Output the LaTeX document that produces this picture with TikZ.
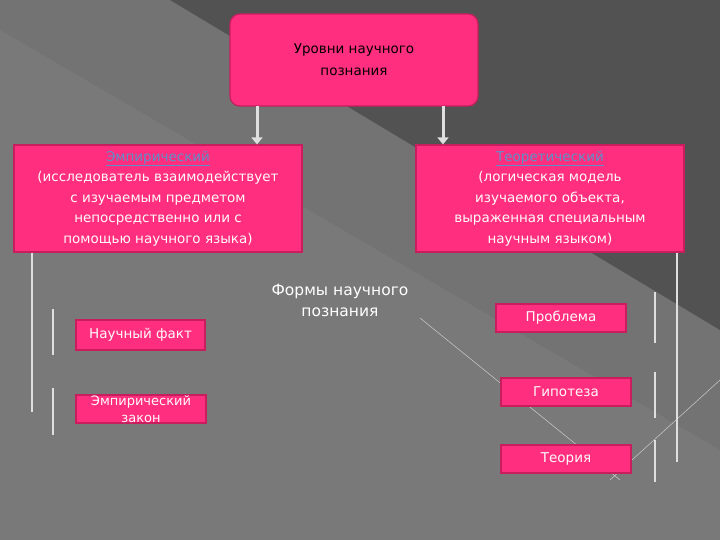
\documentclass[tikz,border=0pt]{standalone}
\usepackage{fontspec}
\setmainfont{DejaVu Sans}
\usetikzlibrary{arrows.meta}
\definecolor{pk}{HTML}{FF2E7E}
\definecolor{pkd}{HTML}{C81E5E}
\definecolor{lnk}{HTML}{5E8FC8}
\tikzset{box/.style={draw=pkd,line width=1.2pt,fill=pk,text=white!92!pink,align=center,font=\fontsize{13.5}{20.5}\selectfont,inner sep=0pt},
bar/.style={draw=white!75!gray,line width=2.5pt},
arr/.style={draw=white!75!gray,line width=3pt,-{Triangle[length=7pt,width=11pt]}}}
\begin{document}
\begin{tikzpicture}[x=1pt,y=-1pt]
\useasboundingbox (0,0) rectangle (720,540);
\fill[gray!90!black] (0,0) rectangle (720,540);
\fill[gray!105!white] (0,30) -- (720,450) -- (720,540) -- (0,540) -- cycle;
\fill[black!68] (170,0) -- (720,0) -- (720,330) -- cycle;
\draw[white!60!gray,line width=0.5pt] (420,318) -- (620,480);
\draw[white!60!gray,line width=0.5pt] (720,380) -- (610,480);
\node[box,rounded corners=10pt,minimum width=248pt,minimum height=92pt,text=black,font=\fontsize{13.5}{22}\selectfont] (top) at (354,60) {Уровни научного\\познания};
\node[box,minimum width=288pt,minimum height=107pt] (emp) at (158,198.5) {\textcolor{lnk}{\underline{Эмпирический}}\\(исследователь взаимодействует\\с изучаемым предметом\\непосредственно или с\\помощью научного языка)};
\node[box,minimum width=268pt,minimum height=107pt] (teo) at (550,198.5) {\textcolor{lnk}{\underline{Теоретический}}\\(логическая модель\\изучаемого объекта,\\выраженная специальным\\научным языком)};
\coordinate (a1) at (257,106); \coordinate (a2) at (443,106);
\draw[arr] (a1) -- (emp.north -| a1);
\draw[arr] (a2) -- (teo.north -| a2);
\node[text=white,align=center,font=\fontsize{15.5}{21}\selectfont] (forms) at (340,300) {Формы научного\\познания};
\node[box,minimum width=129pt,minimum height=30pt] (fact) at (140.5,335) {Научный факт};
\node[box,minimum width=130pt,minimum height=28pt,font=\fontsize{13}{17}\selectfont] (law) at (141,409) {Эмпирический\\закон};
\node[box,minimum width=130pt,minimum height=28pt] (prob) at (561,318) {Проблема};
\node[box,minimum width=130pt,minimum height=28pt] (hyp) at (566,392) {Гипотеза};
\node[box,minimum width=130pt,minimum height=28pt] (theo) at (566,459) {Теория};
\coordinate (l1) at (32,412); \coordinate (r1) at (677,462);
\draw[bar] (emp.south -| l1) -- (l1);
\draw[bar] (teo.south -| r1) -- (r1);
\coordinate (b1a) at (53,309); \coordinate (b1b) at (53,355);
\coordinate (b2a) at (53,388); \coordinate (b2b) at (53,435);
\coordinate (b3a) at (655,292); \coordinate (b3b) at (655,343);
\coordinate (b4a) at (655,372); \coordinate (b4b) at (655,418);
\coordinate (b5a) at (655,440); \coordinate (b5b) at (655,482);
\draw[bar] (b1a) -- (b1b); \draw[bar] (b2a) -- (b2b);
\draw[bar] (b3a) -- (b3b); \draw[bar] (b4a) -- (b4b); \draw[bar] (b5a) -- (b5b);
\end{tikzpicture}
\end{document}
